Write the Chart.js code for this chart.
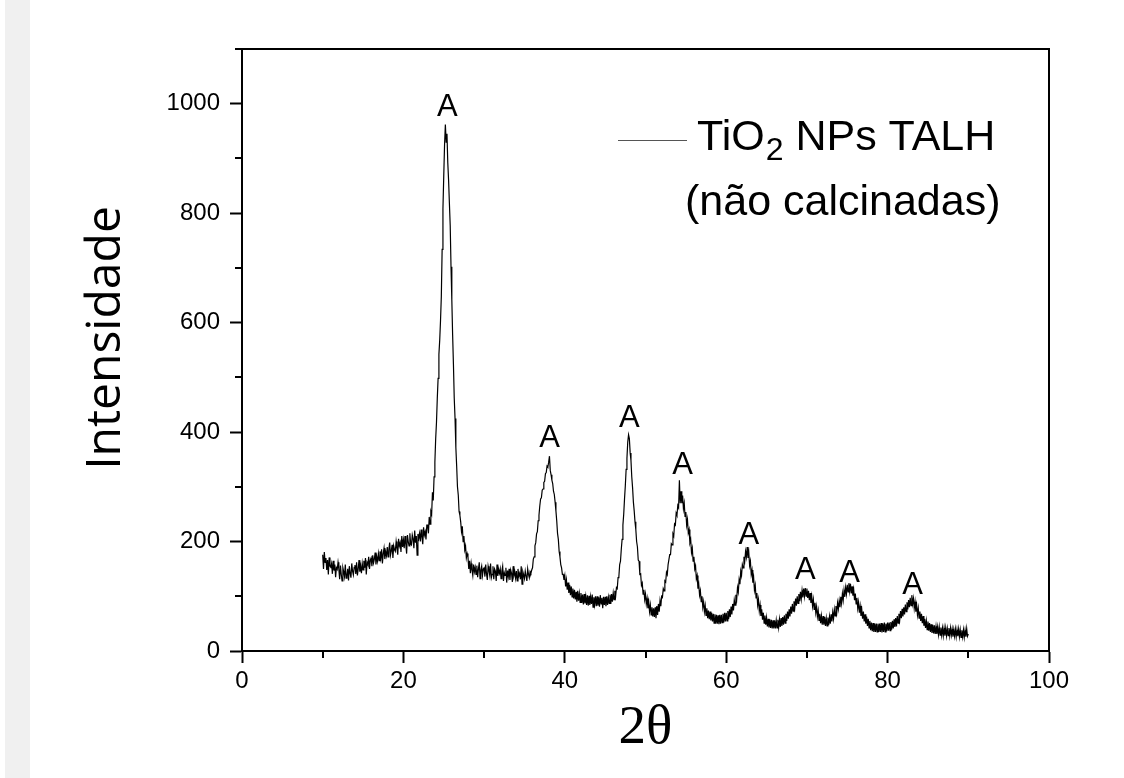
<!DOCTYPE html>
<html><head><meta charset="utf-8">
<script src="https://cdn.jsdelivr.net/npm/chart.js@4"></script>
<style>
html,body{margin:0;padding:0;background:#fff;}
#wrap{position:relative;width:1124px;height:778px;overflow:hidden;}
#strip{position:absolute;left:5px;top:0;width:25px;height:778px;background:#f0f0f0;}
canvas{position:absolute;left:0;top:0;}
</style></head><body>
<div id="wrap"><div id="strip"></div><canvas id="c" width="1124" height="778"></canvas></div>
<script>
// ---- data: 2θ from 10° to 90°, step 0.1° (one row = one degree) ----
const thetaStart = 10;
const thetaStep = 0.1;
const intensity = [
176,150,181,162,170,148,166,140,171,155,
153,160,141,165,147,158,135,152,149,162,
150,131,156,140,128,152,145,136,158,133,
138,150,129,155,142,134,160,146,139,153,
157,141,162,138,150,166,145,155,142,160,
148,165,152,170,140,162,158,172,150,166,
170,155,175,161,168,180,158,172,164,178,
165,182,170,186,160,178,188,168,181,174,
190,172,186,198,175,183,194,170,192,185,
182,200,188,176,205,192,198,181,210,190,
203,188,210,195,178,212,200,192,215,196,
194,212,205,188,220,198,210,175,214,206,
215,200,222,208,195,226,212,218,204,230,
230,215,245,232,255,250,290,275,318,345,
388,418,462,498,542,568,604,648,734,808,
868,925,962,930,945,892,860,818,778,702,
642,578,524,462,425,372,338,300,285,255,
248,236,218,228,200,210,185,192,170,178,
172,150,165,142,160,148,138,158,145,153,
140,156,135,150,162,132,148,155,138,150,
152,136,158,141,130,155,147,138,160,134,
140,155,131,150,146,128,158,137,149,142,
150,132,146,155,128,143,138,152,125,147,
136,150,130,148,142,126,155,138,145,133,
146,128,150,137,142,131,155,122,145,139,
132,146,137,128,150,140,134,145,142,148,
152,168,172,192,198,214,218,238,248,265,
278,280,294,296,308,310,324,326,338,336,
345,356,330,322,312,306,292,286,272,256,
238,215,204,182,172,158,152,140,140,130,
138,118,130,112,125,106,121,102,118,99,
114,96,112,94,108,90,110,92,105,89,
106,88,103,85,104,87,100,84,102,83,
101,84,99,86,103,80,98,85,100,82,
100,83,98,81,102,86,97,78,99,84,
99,82,100,84,98,87,103,86,104,90,
106,94,110,100,116,114,134,136,158,164,
186,204,230,250,278,302,332,352,382,395,
388,362,348,318,298,272,256,236,222,200,
190,166,164,140,141,120,124,104,112,94,
104,86,96,78,90,72,84,66,80,63,
78,62,80,60,82,66,86,72,92,82,
100,98,114,110,128,126,144,140,158,158,
176,176,196,194,214,210,232,230,252,248,
266,262,312,270,292,270,284,260,270,246,
254,230,240,216,222,198,204,180,188,164,
172,150,156,132,138,114,122,102,110,90,
100,80,90,72,83,65,78,60,74,58,
72,56,70,54,68,51,67,50,66,50,
65,49,66,50,66,52,68,52,70,54,
70,55,73,58,76,62,81,67,86,74,
93,84,103,94,116,108,130,122,146,138,
158,152,172,164,182,172,190,170,180,156,
164,140,148,125,134,111,120,97,106,84,
94,73,84,64,76,57,70,51,65,48,
61,45,59,43,58,42,57,41,56,41,
56,41,56,42,57,43,58,44,60,46,
62,48,65,51,68,55,72,59,76,63,
81,68,86,73,91,79,96,83,100,87,
104,91,108,95,111,98,114,100,115,100,
114,97,110,93,106,88,100,82,94,76,
88,70,81,63,74,56,68,51,64,48,
64,48,62,46,60,46,61,47,63,50,
67,54,71,59,76,64,82,70,88,77,
92,80,99,87,105,93,111,99,116,104,
121,108,124,109,123,105,118,101,112,93,
105,86,97,78,89,70,82,64,76,59,
72,54,67,50,63,46,59,42,55,38,
52,36,51,35,50,35,50,35,50,35,
50,35,51,34,50,35,52,35,50,36,
52,37,52,37,53,39,55,41,58,44,
60,45,64,51,68,56,73,60,77,63,
80,67,85,72,89,76,93,80,97,83,
102,86,96,78,90,72,84,66,78,60,
72,55,68,51,64,46,59,42,55,39,
54,37,51,35,49,33,48,32,47,31,
45,31,44,30,44,29,43,29,42,28,
42,28,42,28,41,28,42,28,42,29,
40,26,39,27,40,26,39,27,40,26,
39,25,38,26,39,25,38,26,41,27,
31
];
// peak annotations "A" (anatase)
const peakTheta = [25.45, 38.1, 48.0, 54.6, 62.8, 69.8, 75.3, 83.1];
const peakLabelIntensity = [977, 373, 410, 323, 195, 131, 126, 105];
const peakLabel = 'A';
// ticks
const xMajorTicks = [0, 20, 40, 60, 80, 100];
const xMinorTicks = [10, 30, 50, 70, 90];
const yMajorTicks = [0, 200, 400, 600, 800, 1000];
const yMinorTicks = [100, 300, 500, 700, 900, 1100];
// texts
const seriesNameMain = 'TiO';
const seriesNameSub = '2';
const seriesNameRest = ' NPs TALH';
const seriesNote = '(não calcinadas)';
const xTitle = '2θ';
const yTitle = 'Intensidade';

const points = intensity.map((v, i) => ({ x: Math.round((thetaStart + i * thetaStep) * 10) / 10, y: v }));

const SANS = '"Liberation Sans", Arial, sans-serif';

const decorPlugin = {
  id: 'decor',
  afterDraw(chart) {
    const { ctx, chartArea: a, scales: { x, y } } = chart;
    ctx.save();
    ctx.strokeStyle = '#000';
    ctx.lineWidth = 2;
    // top + right frame
    ctx.beginPath();
    ctx.moveTo(a.left - 1, a.top);
    ctx.lineTo(a.right, a.top);
    ctx.lineTo(a.right, a.bottom + 1);
    ctx.stroke();
    // minor ticks
    ctx.beginPath();
    xMinorTicks.forEach(v => {
      const px = Math.round(x.getPixelForValue(v));
      ctx.moveTo(px, a.bottom);
      ctx.lineTo(px, a.bottom + 7);
    });
    yMinorTicks.forEach(v => {
      const py = Math.round(y.getPixelForValue(v));
      ctx.moveTo(a.left, py);
      ctx.lineTo(a.left - 7, py);
    });
    ctx.stroke();
    // peak labels
    ctx.fillStyle = '#000';
    ctx.font = '31px ' + SANS;
    ctx.textAlign = 'center';
    ctx.textBaseline = 'alphabetic';
    peakTheta.forEach((t, i) => {
      ctx.fillText(peakLabel, x.getPixelForValue(t), y.getPixelForValue(peakLabelIntensity[i]));
    });
    // legend
    const lx = a.left + 376, ly = a.top + 91;
    ctx.strokeStyle = '#555';
    ctx.lineWidth = 1;
    ctx.beginPath();
    ctx.moveTo(lx, ly + 0.5);
    ctx.lineTo(lx + 69, ly + 0.5);
    ctx.stroke();
    ctx.textAlign = 'left';
    ctx.font = '43px ' + SANS;
    let tx = lx + 79;
    const base1 = a.top + 101;
    ctx.fillText(seriesNameMain, tx, base1);
    tx += ctx.measureText(seriesNameMain).width;
    ctx.font = '32px ' + SANS;
    ctx.fillText(seriesNameSub, tx + 1, base1 + 10);
    tx += ctx.measureText(seriesNameSub).width + 1;
    ctx.font = '43px ' + SANS;
    ctx.fillText(seriesNameRest, tx, base1);
    ctx.fillText(seriesNote, lx + 67, a.top + 166);
    // y axis title
    ctx.save();
    ctx.translate(106, (a.top + a.bottom) / 2 - 12);
    ctx.rotate(-Math.PI / 2);
    ctx.font = '48px "Open Sans", sans-serif';
    ctx.textAlign = 'center';
    ctx.textBaseline = 'middle';
    ctx.fillText(yTitle, 0, 0);
    ctx.restore();
    ctx.restore();
  }
};

new Chart(document.getElementById('c'), {
  type: 'line',
  data: { datasets: [{ data: points, borderColor: '#000', borderWidth: 1.2, pointRadius: 0, tension: 0, fill: false }] },
  options: {
    responsive: false,
    animation: false,
    devicePixelRatio: 1,
    layout: { padding: { top: 49, right: 75, bottom: 0, left: 0 } },
    plugins: { legend: { display: false }, tooltip: { enabled: false } },
    scales: {
      x: {
        type: 'linear', min: 0, max: 100,
        afterBuildTicks: s => { s.ticks = xMajorTicks.map(v => ({ value: v })); },
        afterFit: s => { s.height = 127; },
        ticks: { font: { family: SANS, size: 24 }, color: '#000', padding: 4, maxRotation: 0, autoSkip: false, callback: v => String(v) },
        grid: { drawOnChartArea: false, tickLength: 12, tickWidth: 2, tickColor: '#000' },
        border: { display: true, color: '#000', width: 2 },
        title: { display: true, text: xTitle, color: '#000', font: { family: '"Liberation Serif", "Times New Roman", serif', size: 55 }, padding: { top: 0, bottom: 16 } }
      },
      y: {
        type: 'linear', min: 0, max: 1100,
        afterBuildTicks: s => { s.ticks = yMajorTicks.map(v => ({ value: v })); },
        afterFit: s => { s.width = 242; },
        ticks: { font: { family: SANS, size: 24 }, color: '#000', padding: 10, autoSkip: false, callback: v => String(v) },
        grid: { drawOnChartArea: false, tickLength: 12, tickWidth: 2, tickColor: '#000' },
        border: { display: true, color: '#000', width: 2 },
        title: { display: false }
      }
    }
  },
  plugins: [decorPlugin]
});
</script>
</body></html>
